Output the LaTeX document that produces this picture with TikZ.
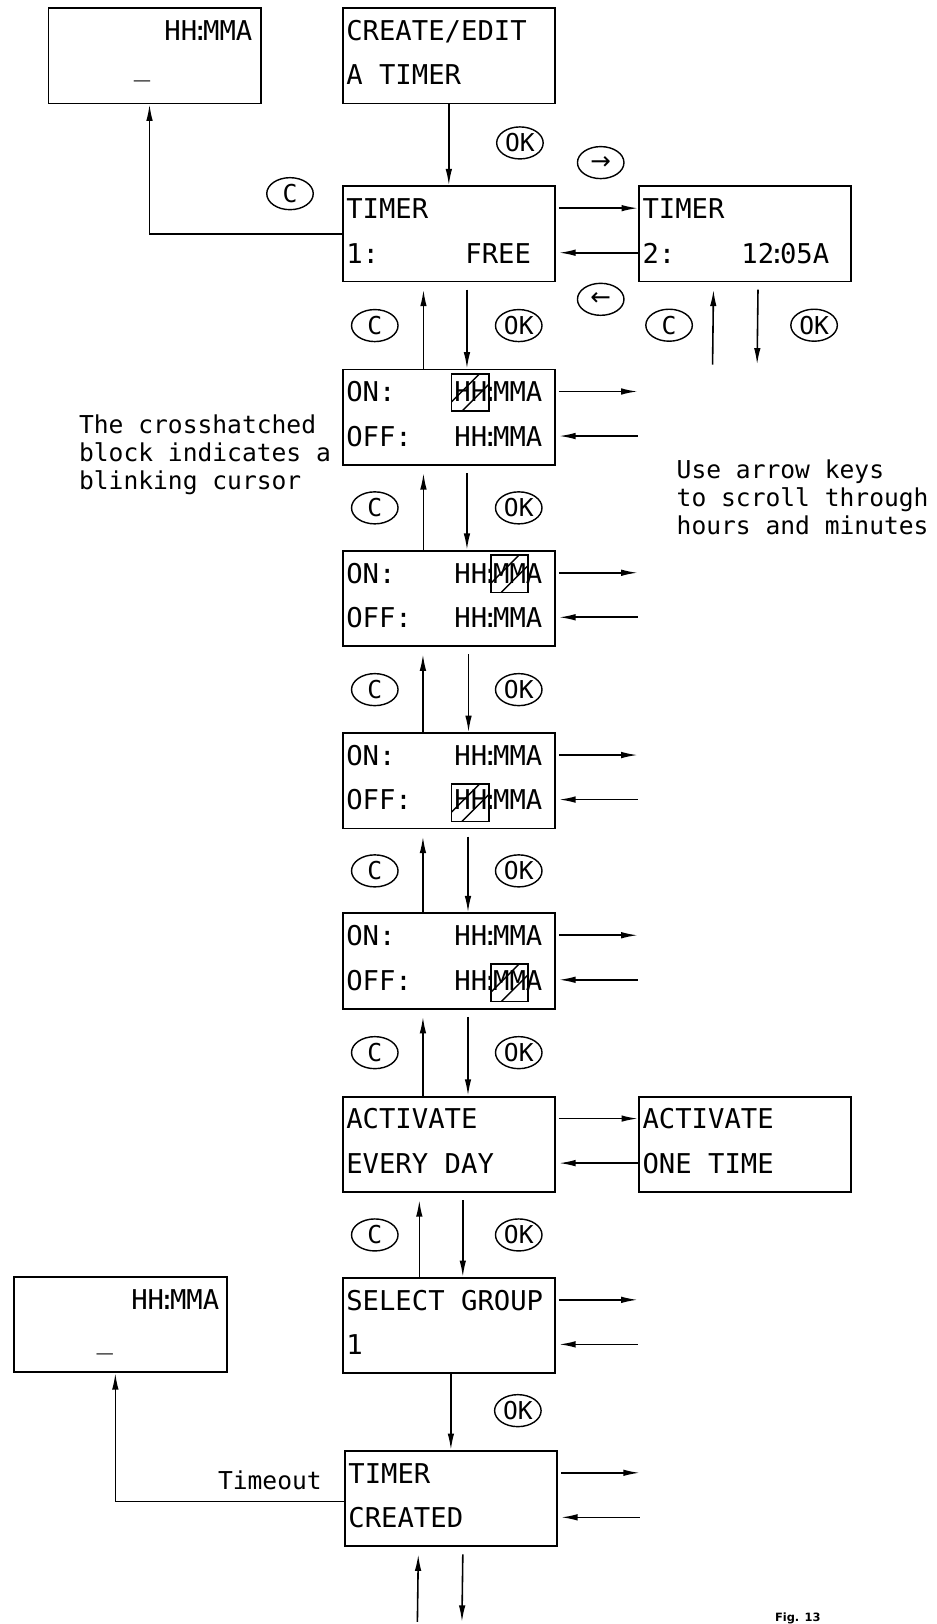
\documentclass[tikz,border=0pt]{standalone}
\usepackage{fontspec}
\usepackage{tikz}
\usetikzlibrary{arrows.meta,shapes.geometric,calc}
\newfontfamily\dispfont{DejaVu Sans Mono}
\newfontfamily\symfont{DejaVu Sans}
\newcommand\lcdcolon{\kern-3pt:\kern-3pt}
\tikzset{
  lcd/.style={draw, line width=1pt, anchor=north west, minimum width=4.245cm,
              minimum height=1.905cm, inner sep=0pt},             % display box
  rowl/.style={anchor=base west, inner sep=0pt, font=\dispfont\fontsize{15.5}{18}\selectfont},
  rowr/.style={rowl, anchor=base east},
  key/.style={ellipse, draw, line width=0.8pt, minimum width=0.93cm, minimum height=0.64cm,
              inner sep=0pt, font=\dispfont\fontsize{14}{16}\selectfont},
  arr/.style={line width=0.9pt, -{Latex[length=3.3mm,width=1.3mm]}},
  note/.style={anchor=north west, align=left, inner sep=0pt, font=\dispfont\fontsize{14}{15.9}\selectfont},
  cur/.style={draw, line width=0.9pt, minimum width=0.745cm, minimum height=0.745cm, inner sep=0pt,
              path picture={
                \draw[line width=0.8pt] ($(path picture bounding box.north west)+(0,27)$) -- ++(27,-27);
                \draw[line width=0.8pt] ($(path picture bounding box.south west)+(10,0)$) -- ++(26,-26);
              }},                                                  % blinking cursor
}
\begin{document}
\begin{tikzpicture}[x=0.020708cm, y=-0.020708cm]
  \useasboundingbox (0,0) rectangle (904,1568);
  % display boxes
  \node[lcd] (boxa)   at (46,7)     {};
  \node[lcd] (create) at (330,7)    {};
  \node[lcd] (t1)     at (330,179)  {};
  \node[lcd] (t2)     at (616,179)  {};
  \node[lcd] (on1)    at (330,356)  {};
  \node[lcd] (on2)    at (330,531)  {};
  \node[lcd] (on3)    at (330,707)  {};
  \node[lcd] (on4)    at (330,881)  {};
  \node[lcd] (act)    at (330,1058) {};
  \node[lcd] (act2)   at (616,1058) {};
  \node[lcd] (sel)    at (330,1233) {};
  \node[lcd] (boxb)   at (13,1232)  {};
  \node[lcd] (done)   at (332,1400) {};
  % display texts
  \node[rowr] (boxa1) at (244,39) {HH\lcdcolon MMA};
  \node[rowl] (boxa2) at (129,73) {\_};
  \node[rowl] (cre1) at (334,39) {CREATE/EDIT};
  \node[rowl] (cre2) at (334,82) {A TIMER};
  \node[rowl] (t1a) at (334,211) {TIMER};
  \node[rowl] (t1b) at (334,254) {1:};
  \node[rowr] (t1c) at (513,254) {FREE};
  \node[rowl] (t2a) at (620,211) {TIMER};
  \node[rowl] (t2b) at (620,254) {2:};
  \node[rowr] (t2c) at (801,254) {12\lcdcolon 05A};
  \foreach \b/\y in {on1/356,on2/531,on3/707,on4/881} {
    \node[rowl] (\b a) at (334,\y+32) {ON:};
    \node[rowr] (\b b) at (524,\y+32) {HH\lcdcolon MMA};
    \node[rowl] (\b c) at (334,\y+75) {OFF:};
    \node[rowr] (\b d) at (524,\y+75) {HH\lcdcolon MMA};
  }
  \node[cur] (cur1) at (454,379) {};
  \node[cur] (cur2) at (492,554) {};
  \node[cur] (cur3) at (454,775) {};
  \node[cur] (cur4) at (492,949) {};
  \node[rowl] (act1a) at (334,1090) {ACTIVATE};
  \node[rowl] (act1b) at (334,1133) {EVERY DAY};
  \node[rowl] (act2a) at (620,1090) {ACTIVATE};
  \node[rowl] (act2b) at (620,1133) {ONE TIME};
  \node[rowl] (sela) at (334,1265) {SELECT GROUP};
  \node[rowl] (selb) at (334,1308) {1};
  \node[rowr] (boxb1) at (212,1264) {HH\lcdcolon MMA};
  \node[rowl] (boxb2) at (93,1302) {\_};
  \node[rowl] (donea) at (336,1432) {TIMER};
  \node[rowl] (doneb) at (336,1475) {CREATED};
  % keys
  \node[key] (okc)    at (502,138)  {OK};
  \node[key] (cc)     at (280,187)  {C};
  \node[key] (kright) at (580,157)  {\symfont →};
  \node[key] (kleft)  at (580,289)  {\symfont ←};
  \node[key] (ct2)    at (646,314)  {C};
  \node[key] (okt2)   at (786,314)  {OK};
  \node[key] (okdone) at (500,1362) {OK};
  % notes
  \node[note] (hint)   at (76,400)  {The crosshatched\\block indicates a\\blinking cursor};
  \node[note] (scroll) at (653,444) {Use arrow keys\\to scroll through\\hours and minutes};
  \node[rowr, font=\dispfont\fontsize{14}{16}\selectfont] (tmo) at (311,1438) {Timeout};
  \node[anchor=base west, inner sep=0pt, font=\symfont\bfseries\fontsize{6.5}{7}\selectfont] (fig) at (748,1566) {Fig. 13};
  % connectors
  \draw[arr] (create.south) -- (t1.north);
  \draw[arr] (t1.west) -| ($(boxa.south)+(-5,0)$);
  \draw[arr] ($(t1.north east)+(3,22)$) -- ($(t2.north west)+(0,22)$);
  \draw[arr] ($(t2.north west)+(0,65)$) -- ($(t1.north east)+(3,65)$);
  \draw[arr] ($(act.north east)+(3,22)$) -- ($(act2.north west)+(0,22)$);
  \draw[arr] ($(act2.north west)+(0,65)$) -- ($(act.north east)+(3,65)$);
  \foreach \ua/\la/\du/\dd in {t1/on1/-24.5/17.5, on1/on2/-24.5/17.5, on2/on3/-25/19,
                               on3/on4/-25/18.5, on4/act/-25/18.5, act/sel/-28.5/13.5} {
    \draw[arr] ($(\la.north)+(\du,0)$) -- ($(\ua.south)+(\du,7)$);
    \draw[arr] ($(\ua.south)+(\dd,7)$) -- ($(\la.north)+(\dd,0)$);
    \node[key] (c\la)  at ($(\ua.south)!0.5!(\la.north)+(-71.5,0)$) {C};
    \node[key] (ok\la) at ($(\ua.south)!0.5!(\la.north)+(67.5,0)$)  {OK};
  }
  \foreach \b in {on1,on2,on3,on4,sel,done} {
    \coordinate (o\b) at ($(\b.north east)+(79,22)$);
    \coordinate (i\b) at ($(\b.north east)+(79,65)$);
    \draw[arr] ($(\b.north east)+(3,22)$) -- (o\b);
    \draw[arr] (i\b) -- ($(\b.north east)+(3,65)$);
  }
  \coordinate (t2up) at (688,352);
  \coordinate (t2dn) at (731,352);
  \draw[arr] (t2up) -- ($(t2.south)+(-30.5,7)$);
  \draw[arr] ($(t2.south)+(12.5,7)$) -- (t2dn);
  \draw[arr] (done.north |- sel.south) -- (done.north);
  \draw[arr] ($(done.west)+(0,3)$) -| ($(boxb.south)+(-5,0)$);
  \coordinate (endup) at (403,1566);
  \coordinate (enddn) at (446,1566);
  \draw[arr] (endup) -- ($(done.south)+(-31.5,7)$);
  \draw[arr] ($(done.south)+(11.5,7)$) -- (enddn);
\end{tikzpicture}
\end{document}
